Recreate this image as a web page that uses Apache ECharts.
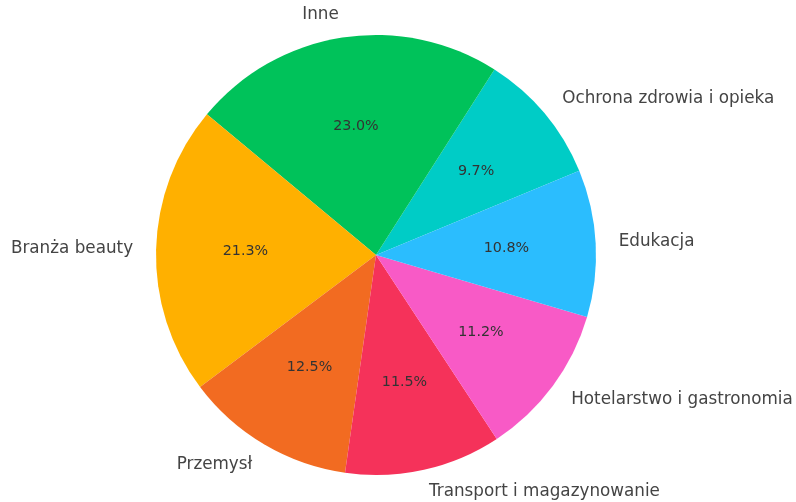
<!DOCTYPE html>
<html>
<head>
<meta charset="utf-8">
<script src="https://cdn.jsdelivr.net/npm/echarts@6/dist/echarts.min.js"></script>
<style>html,body{margin:0;padding:0;background:#fff;}#c{width:796px;height:502px;}</style>
</head>
<body>
<div id="c"></div>
<script>
// Data (counter-clockwise order starting at ~22.5°)
const categories = ['Ochrona zdrowia i opieka', 'Inne', 'Branża beauty', 'Przemysł', 'Transport i magazynowanie', 'Hotelarstwo i gastronomia', 'Edukacja'];
const shares = [9.7, 23.0, 21.3, 12.5, 11.5, 11.2, 10.8];
const colors = ['#00CCC6', '#00C25A', '#FFB000', '#F26B21', '#F5325A', '#F85AC6', '#2BBDFE'];

const R = 220;
const center = [376, 255];
const font = 'DejaVu Sans';

const mainData = categories.map((n, i) => ({ name: n, value: shares[i], itemStyle: { color: colors[i] } }));
const pctData = categories.map((n, i) => ({ name: n, value: shares[i] }));

const chart = echarts.init(document.getElementById('c'), null, { renderer: 'canvas' });
chart.setOption({
  backgroundColor: '#fff',
  animation: false,
  series: [
    {
      type: 'pie',
      center: center,
      radius: [0, R],
      startAngle: 22.5,
      clockwise: false,
      avoidLabelOverlap: false,
      silent: true,
      data: mainData,
      itemStyle: { borderWidth: 0 },
      label: {
        show: true,
        position: 'outside',
        alignTo: 'none',
        distanceToLabelLine: 0,
        fontFamily: font,
        fontSize: 16.8,
        color: '#444',
        padding: [4, 0, 0, 0],
        formatter: '{b}'
      },
      labelLine: { show: false, length: 23, length2: 0 }
    },
    {
      type: 'pie',
      center: center,
      radius: [0, R * 1.16],
      startAngle: 22.5,
      clockwise: false,
      avoidLabelOverlap: false,
      silent: true,
      z: 5,
      data: pctData,
      itemStyle: { color: 'rgba(0,0,0,0)', borderWidth: 0 },
      label: {
        show: true,
        position: 'inside',
        fontFamily: font,
        fontSize: 14.3,
        color: '#333',
        formatter: p => p.value.toFixed(1) + '%'
      },
      labelLine: { show: false }
    }
  ]
});
</script>
</body>
</html>
